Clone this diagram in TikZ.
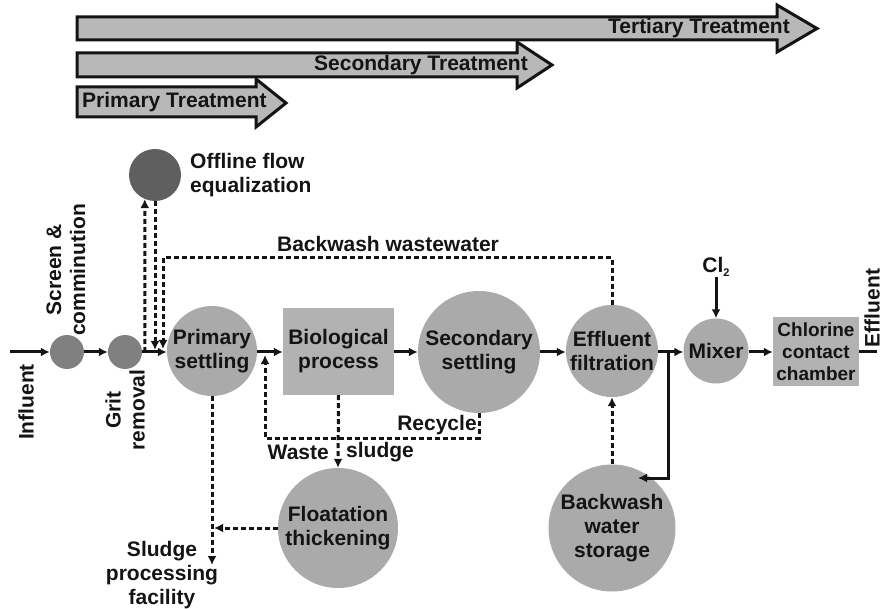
\documentclass[tikz,border=0pt]{standalone}
\usepackage{fontspec}
\setmainfont{Liberation Sans}
\usetikzlibrary{arrows.meta,calc}
\definecolor{bandfill}{RGB}{184,184,184}
\definecolor{unitfill}{RGB}{170,170,170}
\definecolor{tankfill}{RGB}{178,178,178}
\definecolor{smallfill}{RGB}{128,128,128}
\definecolor{darkfill}{RGB}{95,95,95}
\definecolor{ink}{RGB}{20,20,20}

\begin{document}
\begin{tikzpicture}[x=1pt,y=-1pt,
  every node/.style={font=\bfseries\fontsize{21}{24}\selectfont, text=ink, align=center, inner sep=0pt},
  unit/.style={circle, fill=unitfill, draw=none, inner sep=0pt},
  tank/.style={rectangle, fill=tankfill, draw=none, inner sep=0pt},
  band/.style={draw=ink, line width=3pt, fill=bandfill, line join=miter},
  flow/.style={draw=ink, line width=3pt, -{Latex[length=9pt,width=9pt]}},
  dflow/.style={flow, dash pattern=on 5pt off 3pt},
  pipe/.style={draw=ink, line width=3pt}
]
\useasboundingbox (0,0) rectangle (883,609);

% treatment stage bands
\draw[band] (77,17) -- (777,17) -- (777,5) -- (817,28.5) -- (777,52) -- (777,40) -- (77,40) -- cycle;
\draw[band] (77,53) -- (517,53) -- (517,42) -- (552,65) -- (517,88) -- (517,77) -- (77,77) -- cycle;
\draw[band] (77,87) -- (256,87) -- (256,79) -- (286,103) -- (256,127) -- (256,117) -- (77,117) -- cycle;
\node[anchor=east] (tert) at (790,28.5) {Tertiary Treatment};
\node[anchor=east] (seco) at (528,65) {Secondary Treatment};
\node[anchor=west] (prim) at (82,102) {Primary Treatment};

% process units
\node[unit, fill=smallfill, minimum size=34pt] (sc) at (67,352) {};
\node[unit, fill=smallfill, minimum size=34pt] (gr) at (125,352) {};
\node[unit, fill=darkfill, minimum size=52pt] (oe) at (155,175) {};
\node[unit, minimum size=90pt] (ps) at (212,351) {};
\node[tank, minimum width=111pt, minimum height=87pt] (bp) at (338.5,351.5) {};
\node[unit, minimum size=122pt] (ss) at (479,352) {};
\node[unit, minimum size=92pt] (ef) at (612,351) {};
\node[unit, minimum size=65pt] (mx) at (716,351) {};
\node[tank, minimum width=86pt, minimum height=69pt] (cc) at (816,351.5) {};
\node[unit, minimum size=120pt] (ft) at (338,528) {};
\node[unit, minimum size=127pt] (bs) at (612,528) {};

% unit labels
\node (ps-t) at (ps) {Primary\\settling};
\node (bp-t) at (bp) {Biological\\process};
\node (ss-t) at (ss) {Secondary\\settling};
\node (ef-t) at (ef) {Effluent\\filtration};
\node (mx-t) at (mx) {Mixer};
\node[font=\bfseries\fontsize{19}{22}\selectfont] (cc-t) at (cc) {Chlorine\\contact\\chamber};
\node (ft-t) at (ft) {Floatation\\thickening};
\node (bs-t) at (bs) {Backwash\\water\\storage};
\node[anchor=west, align=left] (oe-t) at (190,175) {Offline flow\\equalization};

% side labels
\node[rotate=90] (inf-t) at (26,402) {Influent};
\node[rotate=90] (sc-t) at (66,270) {Screen \&\\comminution};
\node[rotate=90] (gr-t) at (125,410) {Grit\\removal};
\node[rotate=90] (eff-t) at (872,308) {Effluent};
\node (cl) at (716,267) {Cl\raisebox{-4pt}{\fontsize{11}{11}\selectfont 2}};
\node (bw-t) at (388,244) {Backwash wastewater};
\node (rc-t) at (437,425) {Recycle};
\node[anchor=east] (ws-t) at (329,452) {Waste};
\node[anchor=west] (sl-t) at (346,452) {sludge};
\node (sp-t) at (162,575) {Sludge\\processing\\facility};

% free ends and bends
\coordinate (inflow) at (10,352);
\coordinate (outflow) at (877,352);
\coordinate (equp) at (145,352);
\coordinate (eqdn) at (155,350);
\coordinate (bwc) at (163,258);
\coordinate (bwe) at (163,349);
\coordinate (rcb) at (265,438);
\coordinate (rct) at (265,355);
\coordinate (spd) at (212,565);
\coordinate (ftj) at (214,528);
\coordinate (jn) at (668,352);
\coordinate (bsin) at (638,478);

% main line
\draw[flow] (inflow) -- (sc);
\draw[flow] (sc) -- (gr);
\draw[flow] (gr.east) -- (ps.west |- gr.east);
\draw[flow] (ps.east |- gr.east) -- (bp.west |- gr.east);
\draw[flow] (bp.east |- gr.east) -- (ss.west |- gr.east);
\draw[flow] (ss.east |- gr.east) -- (ef.west |- gr.east);
\draw[flow] (ef.east |- gr.east) -- (mx.west |- gr.east);
\draw[flow] (cl) -- (mx);
\draw[flow] (mx.east |- gr.east) -- (cc.west |- gr.east);
\draw[pipe] (cc.east |- gr.east) -- (outflow);
\draw[flow] (jn) |- (bsin);

% flow equalization
\draw[dflow] (equp) -- (oe.247);
\draw[dflow] (oe.south) -- (eqdn);

% backwash and recycle lines
\draw[dflow] (ef.north) |- (bwc) -- (bwe);
\draw[dflow] (ss.south) |- (rcb) -- (rct);
\draw[dflow] (bs.north) -- (ef.south);

% sludge lines
\draw[dflow] (bp.south) -- (ft.north);
\draw[dflow] (ps.south) -- (spd);
\draw[dflow] (ft.west) -- (ftj);
\end{tikzpicture}
\end{document}
